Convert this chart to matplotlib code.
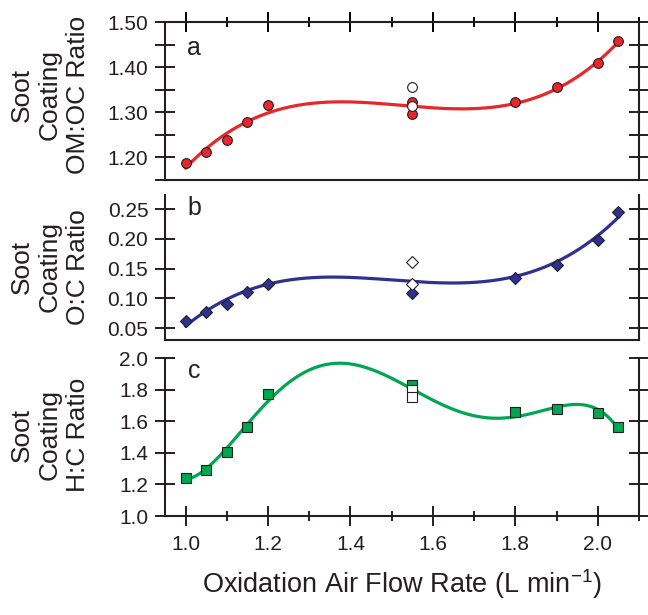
import numpy as np
import matplotlib
matplotlib.use("Agg")
from matplotlib import pyplot as plt
from matplotlib.ticker import MultipleLocator, FormatStrFormatter, NullLocator

plt.rcParams['font.family'] = ['Liberation Sans', 'DejaVu Sans']
plt.rcParams['mathtext.fontset'] = 'custom'
plt.rcParams['mathtext.rm'] = 'Liberation Sans'
plt.rcParams['mathtext.it'] = 'Liberation Sans'

# data
flow_a = [1.0, 1.05, 1.1, 1.15, 1.2, 1.55, 1.55, 1.8, 1.9, 2.0, 2.05]
omoc = [1.187, 1.211, 1.238, 1.279, 1.317, 1.323, 1.297, 1.322, 1.355, 1.409, 1.457]
flow = [1.0, 1.05, 1.1, 1.15, 1.2, 1.55, 1.8, 1.9, 2.0, 2.05]
oc = [0.062, 0.077, 0.090, 0.111, 0.124, 0.109, 0.134, 0.157, 0.198, 0.246]
hc = [1.243, 1.292, 1.408, 1.565, 1.770, 1.831, 1.660, 1.677, 1.653, 1.565]

# open symbols (repeat measurements at 1.55)
flow_open = [1.55, 1.55]
omoc_open = [1.357, 1.315]
oc_open = [0.162, 0.125]
hc_open = [1.799, 1.755]

red = '#e8262c'
blue = '#2e3192'
green = '#00a651'
ink = '#231f20'

fig = plt.figure(figsize=(6.48, 6.15), dpi=100)
W, H = 648.0, 615.0
ax_a = fig.add_axes([165/W, 1-180/H, 474/W, 158/H])
ax_b = fig.add_axes([165/W, 1-340/H, 474/W, 145/H])
ax_c = fig.add_axes([165/W, 1-516/H, 474/W, 158/H])

# axis, x, y, open y, colour, marker, size, letter, fit degree, fit uses open pts, ylim, tick step, minor, fmt
panels = [
    (ax_a, flow_a, omoc, omoc_open, red, 'o', 7, 'a', 3, False, (1.15, 1.50), 0.1, 0.05, '%.2f'),
    (ax_b, flow, oc, oc_open, blue, 'D', 6.5, 'b', 3, True, (0.03, 0.274), 0.05, None, '%.2f'),
    (ax_c, flow, hc, hc_open, green, 's', 6.5, 'c', 5, True, (1.0, 2.0), 0.2, None, '%.1f'),
]

for ax, x, y, yo, col, mk, ms, letter, deg, use_open, ylim, ymaj, ymin, fmt in panels:
    if use_open:
        xf = np.array(list(x) + flow_open)
        yf = np.array(list(y) + yo)
    else:
        xf, yf = np.array(x), np.array(y)
    p = np.polyfit(xf, yf, deg)
    xs = np.linspace(min(x), max(x), 300)
    ax.plot(xs, np.polyval(p, xs), color=col, lw=2.3, zorder=2)
    ax.plot(x, y, linestyle='none', marker=mk, ms=ms, mfc=col, mec=ink, mew=0.8, zorder=3)
    ax.plot(flow_open, yo, linestyle='none', marker=mk, ms=ms, mfc='white', mec=ink, mew=0.8, zorder=4)

    ax.set_xlim(0.95, 2.10)
    ax.set_ylim(*ylim)
    ax.yaxis.set_major_locator(MultipleLocator(ymaj))
    ax.yaxis.set_major_formatter(FormatStrFormatter(fmt))
    if ymin:
        ax.yaxis.set_minor_locator(MultipleLocator(ymin))
    ax.tick_params(axis='y', which='both', direction='inout', length=14, width=1.4,
                   left=True, right=True, labelsize=15, pad=5, colors=ink)
    for s in ax.spines.values():
        s.set_linewidth(1.5)
        s.set_color(ink)
    ax.text(0.062, {'a': 0.835, 'b': 0.91, 'c': 0.918}[letter], letter,
            transform=ax.transAxes, ha='center', va='center', fontsize=18, color=ink)

# x ticks: top of panel a, bottom of panel c
ax_a.xaxis.set_major_locator(MultipleLocator(0.2))
ax_a.xaxis.set_minor_locator(MultipleLocator(0.1))
ax_a.tick_params(axis='x', which='major', direction='inout', length=14, width=1.4,
                 top=True, bottom=False, labeltop=False, labelbottom=False)
ax_a.tick_params(axis='x', which='minor', direction='inout', length=7, width=1.4,
                 top=True, bottom=False)

ax_b.xaxis.set_major_locator(NullLocator())
ax_b.spines['top'].set_visible(False)

ax_c.spines['top'].set_visible(False)
ax_c.xaxis.set_major_locator(MultipleLocator(0.2))
ax_c.xaxis.set_minor_locator(MultipleLocator(0.1))
ax_c.xaxis.set_major_formatter(FormatStrFormatter('%.1f'))
ax_c.tick_params(axis='x', which='major', direction='inout', length=14, width=1.4,
                 labelsize=15, pad=7, colors=ink)
ax_c.tick_params(axis='x', which='minor', direction='inout', length=7, width=1.4, colors=ink)

ax_c.set_xlabel(r'Oxidation Air Flow Rate (L min$^{-1}$)', fontsize=19.5, color=ink, labelpad=9)

ylabels = ['Soot\nCoating\nOM:OC Ratio', 'Soot\nCoating\nO:C Ratio', 'Soot\nCoating\nH:C Ratio']
ycent = [95, 267, 435]
for lab, yc in zip(ylabels, ycent):
    fig.text(50/W, 1-yc/H, lab, rotation=90, ha='center', va='center',
             multialignment='center', fontsize=19, color=ink, linespacing=1.2)

fig.savefig('out.png', dpi=100)
